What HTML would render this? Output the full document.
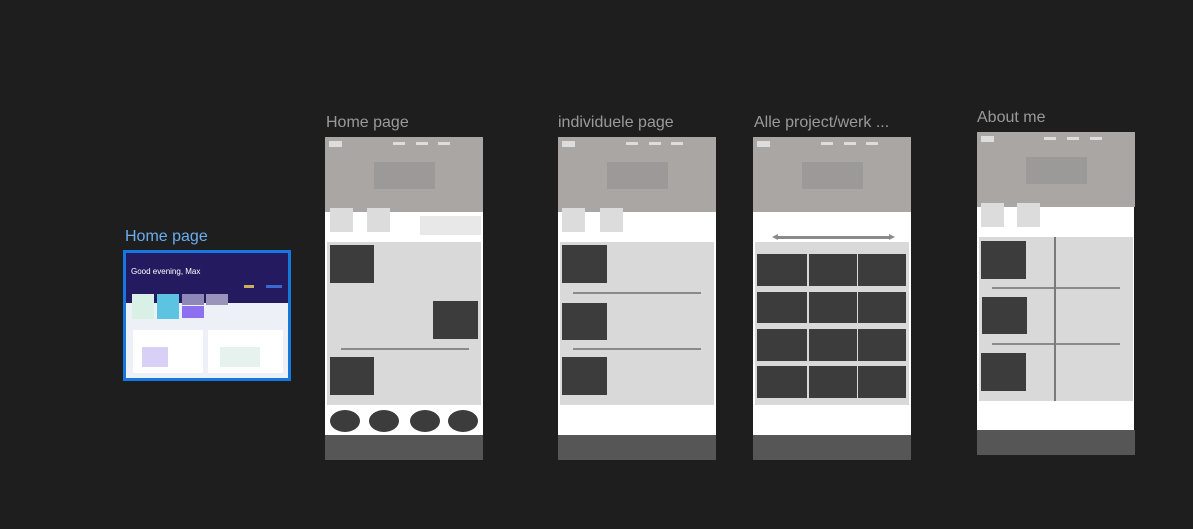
<!DOCTYPE html>
<html><head><meta charset="utf-8"><style>
body{margin:0;background:#1e1e1e;width:1193px;height:529px;overflow:hidden;position:relative;font-family:"Liberation Sans",sans-serif}
div{position:absolute;box-sizing:border-box}
.t{color:#9a9a9a;font-size:16px;white-space:nowrap}
.f{width:158px;height:323px;background:#fff}
.h{left:0;top:0;width:158px;height:75px;background:#aaa6a4}
.lg{left:4px;top:4px;width:13px;height:6px;background:#ddd}
.nv{top:5px;width:12px;height:3px;background:#ddd}
.hero{left:49px;top:25px;width:61px;height:27px;background:#9c9a98}
.sq{width:23px;height:24px;background:#dcdcdc}
.ga{background:#d9d9d9}
.dk{background:#3c3c3c}
.ln{height:2px;background:#8a8a8a}
.ft{left:0;top:298px;width:158px;height:25px;background:#565656}
.c{width:30px;height:22px;border-radius:50%;background:#3c3c3c;top:273px}
</style></head><body>

<div class="t" style="left:125px;top:228px;color:#6aaef0;">Home page</div>
<div style="left:123px;top:250px;width:168px;height:131px;background:#1478e0;"></div>
<div style="left:126px;top:253px;width:162px;height:125px;background:#eef0f7;"></div>
<div style="left:126px;top:253px;width:162px;height:50px;background:#241a60;"></div>
<div style="left:131px;top:267px;color:#fff;font-size:8px;">Good evening, Max</div>
<div style="left:132px;top:294px;width:22px;height:25px;background:#d8f0e6;"></div>
<div style="left:157px;top:294px;width:22px;height:25px;background:#5cc4e0;"></div>
<div style="left:182px;top:294px;width:22px;height:11px;background:#8e88b8;"></div>
<div style="left:182px;top:306px;width:22px;height:12px;background:#8d70f0;"></div>
<div style="left:206px;top:294px;width:22px;height:11px;background:#9a94bc;"></div>
<div style="left:244px;top:285px;width:10px;height:3px;background:#c8b060;"></div>
<div style="left:266px;top:285px;width:16px;height:3px;background:#3a6ad0;"></div>
<div style="left:133px;top:330px;width:70px;height:43px;background:#fff;"></div>
<div style="left:208px;top:330px;width:75px;height:43px;background:#fff;"></div>
<div style="left:142px;top:347px;width:26px;height:20px;background:#d8d0f6;"></div>
<div style="left:220px;top:347px;width:40px;height:20px;background:#e6f2ee;"></div>

<div class="t" style="left:326px;top:114px;">Home page</div>
<div class="f" style="left:325px;top:137px;">
 <div class="h"></div><div class="lg"></div>
 <div class="nv" style="left:68px"></div><div class="nv" style="left:91px"></div><div class="nv" style="left:113px"></div>
 <div class="hero"></div>
 <div class="sq" style="left:5px;top:71px"></div><div class="sq" style="left:42px;top:71px"></div>
 <div style="left:95px;top:79px;width:61px;height:19px;background:#e8e8e8"></div>
 <div class="ga" style="left:2px;top:105px;width:154px;height:163px"></div>
 <div class="dk" style="left:5px;top:108px;width:44px;height:38px"></div>
 <div class="dk" style="left:108px;top:164px;width:45px;height:38px"></div>
 <div class="ln" style="left:16px;top:211px;width:128px"></div>
 <div class="dk" style="left:5px;top:220px;width:44px;height:38px"></div>
 <div class="c" style="left:5px"></div><div class="c" style="left:44px"></div><div class="c" style="left:85px"></div><div class="c" style="left:123px"></div>
 <div class="ft"></div>
</div>

<div class="t" style="left:558px;top:114px;">individuele page</div>
<div class="f" style="left:558px;top:137px;">
 <div class="h"></div><div class="lg"></div>
 <div class="nv" style="left:68px"></div><div class="nv" style="left:91px"></div><div class="nv" style="left:113px"></div>
 <div class="hero"></div>
 <div class="sq" style="left:4px;top:71px"></div><div class="sq" style="left:42px;top:71px"></div>
 <div class="ga" style="left:2px;top:105px;width:154px;height:163px"></div>
 <div class="dk" style="left:4px;top:108px;width:45px;height:38px"></div>
 <div class="ln" style="left:15px;top:155px;width:128px"></div>
 <div class="dk" style="left:4px;top:166px;width:45px;height:37px"></div>
 <div class="ln" style="left:15px;top:211px;width:128px"></div>
 <div class="dk" style="left:4px;top:220px;width:45px;height:38px"></div>
 <div class="ft"></div>
</div>

<div class="t" style="left:754px;top:114px;">Alle project/werk ...</div>
<div class="f" style="left:753px;top:137px;">
 <div class="h"></div><div class="lg"></div>
 <div class="nv" style="left:68px"></div><div class="nv" style="left:91px"></div><div class="nv" style="left:113px"></div>
 <div class="hero"></div>
 <div class="ln" style="left:25px;top:99px;width:111px;height:3px"></div>
 <div style="left:19px;top:97px;width:0;height:0;border-top:3px solid transparent;border-bottom:3px solid transparent;border-right:6px solid #8a8a8a"></div>
 <div style="left:136px;top:97px;width:0;height:0;border-top:3px solid transparent;border-bottom:3px solid transparent;border-left:6px solid #8a8a8a"></div>
 <div class="ga" style="left:2px;top:105px;width:154px;height:163px"></div>
 <div class="dk" style="left:4px;top:117px;width:50px;height:32px"></div><div class="dk" style="left:56px;top:117px;width:48px;height:32px"></div><div class="dk" style="left:105px;top:117px;width:48px;height:32px"></div>
 <div class="dk" style="left:4px;top:155px;width:50px;height:31px"></div><div class="dk" style="left:56px;top:155px;width:48px;height:31px"></div><div class="dk" style="left:105px;top:155px;width:48px;height:31px"></div>
 <div class="dk" style="left:4px;top:192px;width:50px;height:32px"></div><div class="dk" style="left:56px;top:192px;width:48px;height:32px"></div><div class="dk" style="left:105px;top:192px;width:48px;height:32px"></div>
 <div class="dk" style="left:4px;top:229px;width:50px;height:32px"></div><div class="dk" style="left:56px;top:229px;width:48px;height:32px"></div><div class="dk" style="left:105px;top:229px;width:48px;height:32px"></div>
 <div class="ft"></div>
</div>

<div class="t" style="left:977px;top:109px;">About me</div>
<div class="f" style="left:977px;top:132px;width:157px;">
 <div class="h"></div><div class="lg"></div>
 <div class="nv" style="left:67px"></div><div class="nv" style="left:90px"></div><div class="nv" style="left:113px"></div>
 <div class="hero"></div>
 <div class="sq" style="left:4px;top:71px"></div><div class="sq" style="left:40px;top:71px"></div>
 <div class="ga" style="left:2px;top:105px;width:154px;height:164px"></div>
 <div class="dk" style="left:4px;top:109px;width:45px;height:38px"></div>
 <div class="ln" style="left:15px;top:155px;width:128px"></div>
 <div class="dk" style="left:5px;top:165px;width:45px;height:37px"></div>
 <div class="ln" style="left:15px;top:211px;width:128px"></div>
 <div class="dk" style="left:4px;top:221px;width:45px;height:38px"></div>
 <div style="left:77px;top:105px;width:2px;height:164px;background:#7a7a7a"></div>
 <div class="ft"></div>
</div>
</body></html>
